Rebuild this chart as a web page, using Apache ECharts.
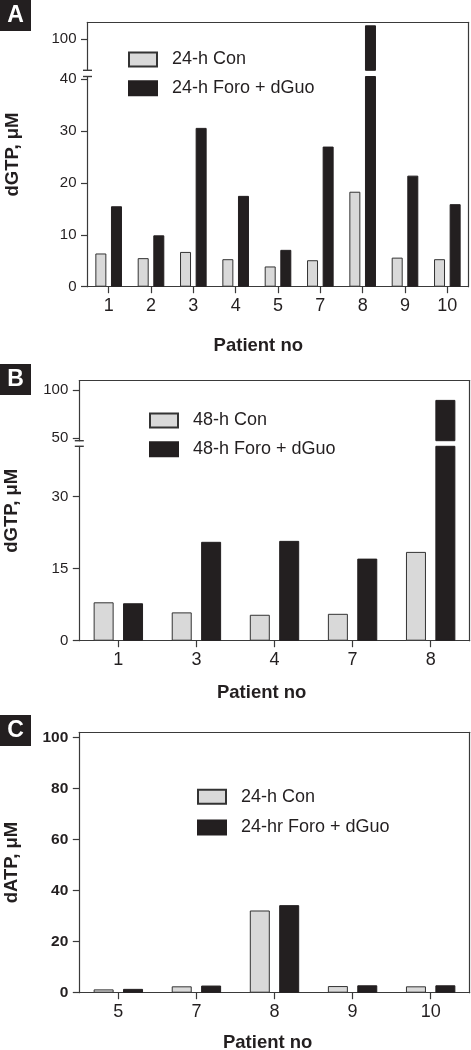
<!DOCTYPE html>
<html><head><meta charset="utf-8">
<script src="https://cdn.jsdelivr.net/npm/echarts@6/dist/echarts.min.js"></script>
<style>html,body{margin:0;padding:0;background:#fff}#c{width:471px;height:1050px}</style>
</head><body><div id="c"></div>
<script>
// ---- Data ----
const catsA = ['1', '2', '3', '4', '5', '7', '8', '9', '10'];
const a24Con = [6.4, 5.5, 6.7, 5.3, 3.9, 5.1, 18.3, 5.6, 5.3];
const a24Foro = [15.5, 9.9, 30.6, 17.5, 7.1, 27.0, 123, 21.4, 15.9];

const catsB = ['1', '3', '4', '7', '8'];
const b48Con = [8.0, 5.9, 5.4, 5.6, 18.5];
const b48Foro = [7.8, 20.6, 20.8, 17.1, 90];

const catsC = ['5', '7', '8', '9', '10'];
const c24Con = [1.3, 2.5, 32.2, 2.6, 2.5];
const c24Foro = [1.5, 2.8, 34.3, 2.9, 2.9];

const aLowerTicks = [0, 10, 20, 30, 40];
const aUpperTicks = [100];
const bLowerTicks = [0, 15, 30];
const bUpperTicks = [50, 100];
const cTicks = [0, 20, 40, 60, 80, 100];

// ---- Styles ----
const FONT = '"Liberation Sans", Arial, Helvetica, sans-serif';
const AX = '#3a3a3a';
const TXT = '#231f20';
const LIGHT = '#d9d9d9';
const DARK = '#231f20';
const LW = 1.2;

function lineStyle() { return { color: AX, width: LW }; }

function catAxis(grid, data, show, nameOpts) {
  const ax = {
    gridIndex: grid, type: 'category', data: data, position: 'bottom',
    axisLine: { show: show, onZero: false, lineStyle: lineStyle() },
    axisTick: { show: show, alignWithLabel: true, length: 6.5, lineStyle: lineStyle() },
    axisLabel: { show: show, fontSize: 18, color: TXT, fontFamily: FONT, margin: 10 },
    splitLine: { show: false }
  };
  if (nameOpts) {
    ax.name = 'Patient no';
    ax.nameLocation = 'middle';
    ax.nameGap = nameOpts.gap;
    ax.nameMoveOverlap = false;
    ax.nameTextStyle = { fontSize: 18.5, fontWeight: 'bold', color: TXT, fontFamily: FONT, padding: [0, nameOpts.shift, 0, 0] };
  }
  return ax;
}

function valAxis(grid, min, max, ticks, sym, bold, nameOpts) {
  const ax = {
    gridIndex: grid, type: 'value', min: min, max: max, position: 'left',
    axisLine: { show: true, onZero: false, lineStyle: lineStyle(), symbol: sym, symbolSize: [9, 1.4] },
    axisTick: { show: true, length: 6.5, customValues: ticks, lineStyle: lineStyle() },
    axisLabel: { customValues: ticks, fontSize: bold ? 15.5 : 15, fontWeight: bold ? 'bold' : 'normal', color: TXT, fontFamily: FONT, margin: 11 },
    splitLine: { show: false }
  };
  if (nameOpts) {
    ax.name = nameOpts.name;
    ax.nameLocation = 'middle';
    ax.nameGap = nameOpts.gap;
    ax.nameMoveOverlap = false;
    ax.nameTextStyle = { fontSize: 18.5, fontWeight: 'bold', color: TXT, fontFamily: FONT };
  }
  return ax;
}

function frameX(grid) {
  return {
    gridIndex: grid, type: 'value', min: 0, max: 1, position: 'top',
    axisLine: { show: true, onZero: false, lineStyle: lineStyle() },
    axisTick: { show: false }, axisLabel: { show: false }, splitLine: { show: false }
  };
}
function frameY(grid, pos, lineShow, nameOpts) {
  const ax = {
    gridIndex: grid, type: 'value', min: 0, max: 1, position: pos,
    axisLine: { show: lineShow, onZero: false, lineStyle: lineStyle() },
    axisTick: { show: false }, axisLabel: { show: false }, splitLine: { show: false }
  };
  if (nameOpts) {
    ax.name = nameOpts.name;
    ax.nameLocation = 'middle';
    ax.nameGap = nameOpts.gap;
    ax.nameMoveOverlap = false;
    ax.nameTextStyle = { fontSize: 18.5, fontWeight: 'bold', color: TXT, fontFamily: FONT };
  }
  return ax;
}

function bars(name, data, xi, yi, light, bw, gap) {
  return {
    type: 'bar', name: name, data: data, xAxisIndex: xi, yAxisIndex: yi,
    barWidth: bw, barGap: gap, clip: true, silent: true,
    itemStyle: { color: light ? LIGHT : DARK, borderColor: light ? '#333333' : DARK, borderWidth: 1 },
    emphasis: { disabled: true }
  };
}

function legend(names, left, top, gap) {
  return {
    orient: 'vertical', left: left, top: top, padding: 0,
    itemWidth: 28, itemHeight: 14, itemGap: gap, icon: 'rect',
    selectedMode: false, data: names,
    textStyle: { fontSize: 18, color: TXT, fontFamily: FONT, padding: [0, 0, 0, 10] }
  };
}

function panelLabel(letter, y) {
  return [
    { type: 'rect', shape: { x: 0, y: y, width: 31, height: 31 }, style: { fill: DARK }, silent: true },
    { type: 'text', x: 15.5, y: y + 16, style: { text: letter, fill: '#ffffff', font: 'bold 23px ' + FONT, align: 'center', verticalAlign: 'middle' }, silent: true }
  ];
}

const g = (left, top, width, height) => ({ left, top, width, height, outerBoundsMode: 'none', containLabel: false });

const option = {
  animation: false,
  backgroundColor: '#ffffff',
  textStyle: { fontFamily: FONT },
  grid: [
    g(87.5, 22.3, 381, 48),      // 0 A upper
    g(87.5, 76.5, 381, 210.2),   // 1 A lower
    g(87.5, 22.3, 381, 264.4),   // 2 A frame
    g(79.3, 380.7, 390.4, 60),   // 3 B upper
    g(79.3, 446.3, 390.4, 194.4),// 4 B lower
    g(79.3, 380.7, 390.4, 260),  // 5 B frame
    g(79.3, 732.3, 390.4, 260.4) // 6 C
  ],
  xAxis: [
    catAxis(0, catsA, false),
    catAxis(1, catsA, true, { gap: 50, shift: 39.4 }),
    frameX(2),
    catAxis(3, catsB, false),
    catAxis(4, catsB, true, { gap: 43, shift: 25.6 }),
    frameX(5),
    catAxis(6, catsC, true, { gap: 41, shift: 13.6 }),
    frameX(6)
  ],
  yAxis: [
    valAxis(0, 48, 128, aUpperTicks, ['rect', 'none'], false),            // 0
    valAxis(1, 0, 40.5, aLowerTicks, ['none', 'rect'], false),            // 1
    frameY(2, 'left', false, { name: 'dGTP, \u03bcM', gap: 65 }),          // 2
    frameY(2, 'right', true),                                              // 3
    valAxis(3, 47.5, 110, bUpperTicks, ['rect', 'none'], false),          // 4
    valAxis(4, 0, 40.5, bLowerTicks, ['none', 'rect'], false),            // 5
    frameY(5, 'left', false, { name: 'dGTP, \u03bcM', gap: 57.5 }),        // 6
    frameY(5, 'right', true),                                              // 7
    valAxis(6, 0, 102, cTicks, ['none', 'none'], true, { name: 'dATP, \u03bcM', gap: 57.5 }), // 8
    frameY(6, 'right', true)                                               // 9
  ],
  legend: [
    legend(['24-h Con', '24-h Foro + dGuo'], 128, 50.5, 10.8),
    legend(['48-h Con', '48-h Foro + dGuo'], 149, 411.5, 10.8),
    legend(['24-h Con', '24-hr Foro + dGuo'], 197, 787.7, 12.8)
  ],
  series: [
    bars('24-h Con', a24Con, 1, 1, true, 11, '42%'),
    bars('24-h Foro + dGuo', a24Foro, 1, 1, false, 11, '42%'),
    bars('24-h Con', a24Con, 0, 0, true, 11, '42%'),
    bars('24-h Foro + dGuo', a24Foro, 0, 0, false, 11, '42%'),
    bars('48-h Con', b48Con, 4, 5, true, 20, '47%'),
    bars('48-h Foro + dGuo', b48Foro, 4, 5, false, 20, '47%'),
    bars('48-h Con', b48Con, 3, 4, true, 20, '47%'),
    bars('48-h Foro + dGuo', b48Foro, 3, 4, false, 20, '47%'),
    bars('24-h Con', c24Con, 6, 8, true, 20, '47%'),
    bars('24-hr Foro + dGuo', c24Foro, 6, 8, false, 20, '47%')
  ],
  graphic: [].concat(panelLabel('A', 0), panelLabel('B', 364), panelLabel('C', 715))
};

const chart = echarts.init(document.getElementById('c'), null, { renderer: 'canvas' });
chart.setOption(option);
</script>
</body></html>
